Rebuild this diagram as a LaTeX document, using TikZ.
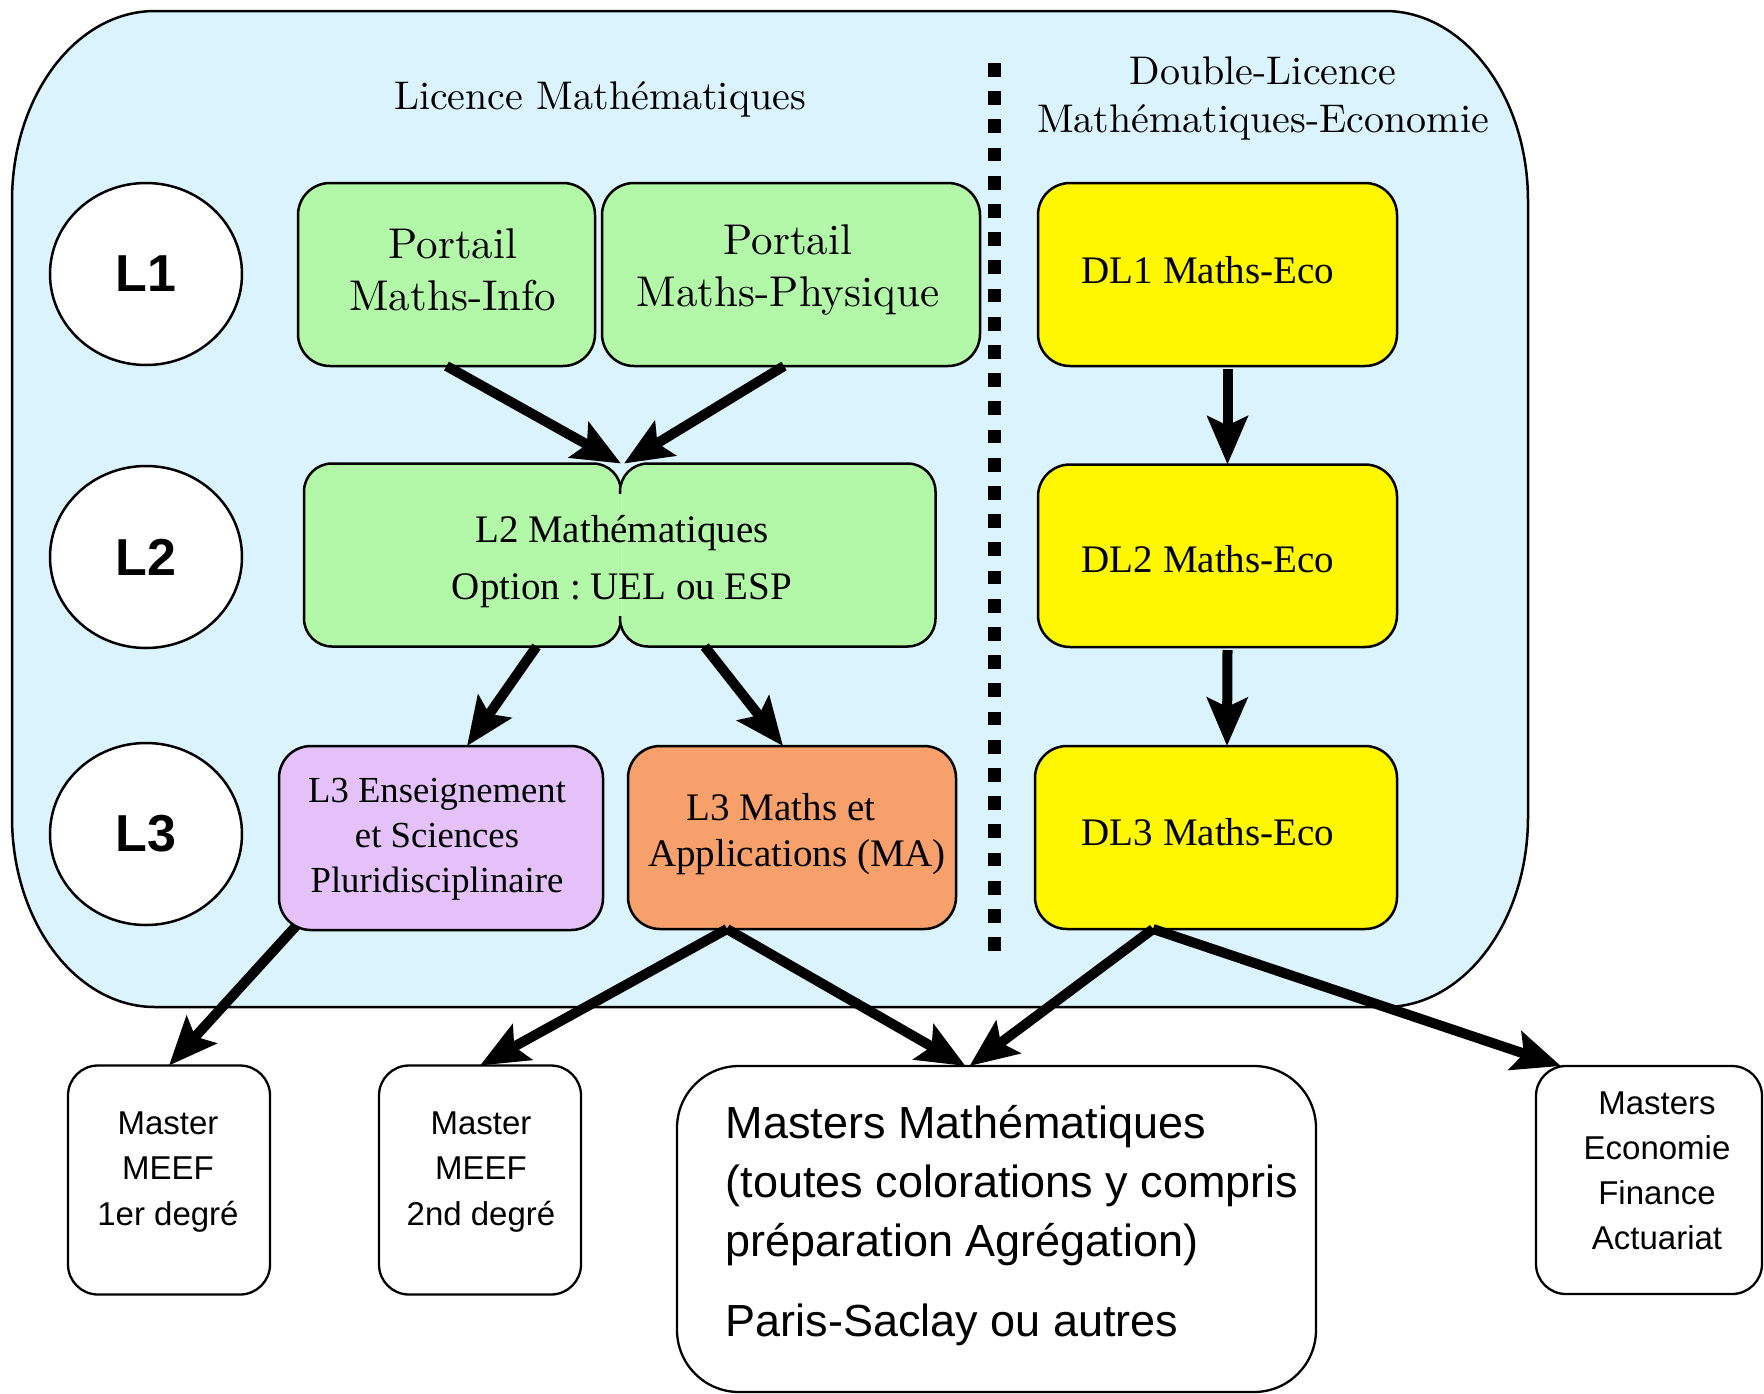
\documentclass[tikz,border=0pt]{standalone}
\usepackage{fontspec}
\newfontfamily\tms{Liberation Serif}
\newfontfamily\ars{Liberation Sans}
\newfontfamily\lmten{lmroman10-regular.otf}
\usetikzlibrary{shapes.geometric,arrows.meta}
\definecolor{bgblue}{HTML}{DAF3FD}
\definecolor{lgreen}{HTML}{B3F7A8}
\definecolor{seamgreen}{HTML}{C6F9C0}
\definecolor{dlyellow}{HTML}{FFF700}
\definecolor{lpurple}{HTML}{E4C1F9}
\definecolor{lorange}{HTML}{F8A06B}
\begin{document}
\frenchspacing
\begin{tikzpicture}[x=1pt,y=-1pt,
  box/.style={rectangle, draw=black, line width=2.5pt, rounded corners=32pt, inner sep=0pt, outer sep=0pt},
  mbox/.style={rectangle, draw=black, fill=white, line width=2.3pt, rounded corners=30pt, inner sep=0pt, outer sep=0pt},
  lvl/.style={ellipse, draw=black, fill=white, line width=2.5pt, minimum width=192pt, minimum height=182pt, inner sep=0pt, font=\ars\bfseries\fontsize{52}{52}\selectfont},
  lmtxt/.style={inner sep=0pt, align=center, font=\lmten\fontsize{43}{52}\selectfont},
  titletxt/.style={inner sep=0pt, align=center, font=\lmten\fontsize{40}{48}\selectfont},
  tmtxt/.style={inner sep=0pt, align=center, font=\tms\fontsize{39}{46}\selectfont},
  sftxt/.style={inner sep=0pt, align=center, font=\ars\fontsize{33}{45.5}\selectfont},
  arr/.style={line width=10pt, -{Stealth[length=48pt,width=40pt,inset=9pt]}}
]
\useasboundingbox (0,0) rectangle (1764,1393);

% background region
\filldraw[fill=bgblue, draw=black, line width=2.5pt]
  (155,11) -- (1385,11) .. controls (1464,11) and (1528,96) .. (1528,201)
  -- (1528,817) .. controls (1528,922) and (1464,1007) .. (1385,1007)
  -- (155,1007) .. controls (76,1007) and (12,922) .. (12,817)
  -- (12,201) .. controls (12,96) and (76,11) .. (155,11) -- cycle;

% separator
\draw[line width=13.5pt, dash pattern=on 13.7pt off 14.5pt] (994.5,63) -- (994.5,953.5);

% titles
\node[titletxt] (tlic) at (600,99.5) {Licence Mathématiques};
\node[titletxt] (tdl) at (1263,98.5) {Double-Licence\\Mathématiques-Economie};

% levels
\node[lvl] (lv1) at (146,274) {L1};
\node[lvl] (lv2) at (146,557) {L2};
\node[lvl] (lv3) at (146,834) {L3};

% L1 boxes
\node[box, fill=lgreen, minimum width=297pt, minimum height=183pt] (pmi) at (446.5,274.5) {};
\node[box, fill=lgreen, minimum width=378pt, minimum height=183pt] (pmp) at (791,274.5) {};
\node[lmtxt] (tpmi) at (453,270) {Portail\\Maths-Info};
\node[lmtxt] (tpmp) at (788,270) {Portail\\Maths-Physique};

% L2 box (two merged boxes)
\node[box, fill=lgreen, rounded corners=28pt, minimum width=317pt, minimum height=183pt] (l2a) at (462.5,555) {};
\node[box, fill=lgreen, rounded corners=28pt, minimum width=315.5pt, minimum height=183pt] (l2b) at (777.75,555) {};
\fill[lgreen] (613,494) rectangle (628,616);
\draw[seamgreen, line width=1.5pt] (621.5,494) -- (621.5,616);
\node[tmtxt, font=\tms\fontsize{39}{57}\selectfont] (tl2) at (622,561.5) {L2 Mathématiques\\Option : UEL ou ESP};

% L3 boxes
\node[box, fill=lpurple, minimum width=324pt, minimum height=184pt] (l3e) at (441,838) {};
\node[box, fill=lorange, minimum width=328pt, minimum height=183pt] (l3m) at (792,837.5) {};
\node[tmtxt, font=\tms\fontsize{36.7}{45}\selectfont] (tl3e) at (437,839) {L3 Enseignement\\et Sciences\\Pluridisciplinaire};
\node[tmtxt] (tl3m) at (797,834) {L3 Maths et\hspace*{32pt}\\Applications (MA)};

% Double licence boxes
\node[box, fill=dlyellow, minimum width=359pt, minimum height=183pt] (dl1) at (1217.5,274.5) {};
\node[box, fill=dlyellow, minimum width=359pt, minimum height=182.5pt] (dl2) at (1217.5,555.75) {};
\node[box, fill=dlyellow, minimum width=362pt, minimum height=183pt] (dl3) at (1216,837.5) {};
\node[tmtxt] (tdl1) at (1208,270) {DL1 Maths-Eco};
\node[tmtxt] (tdl2) at (1208,559) {DL2 Maths-Eco};
\node[tmtxt] (tdl3) at (1208,832) {DL3 Maths-Eco};

% Masters
\node[mbox, minimum width=202pt, minimum height=229pt] (m1) at (169,1180) {};
\node[mbox, minimum width=202pt, minimum height=229pt] (m2) at (480,1180) {};
\node[mbox, rounded corners=62pt, minimum width=639pt, minimum height=326pt] (mm) at (996.5,1229) {};
\node[mbox, minimum width=226pt, minimum height=228pt] (me) at (1649,1180) {};
\node[sftxt] (tm1) at (168,1172) {Master\\MEEF\\1er degré};
\node[sftxt] (tm2) at (481,1172) {Master\\MEEF\\2nd degré};
\node[sftxt, font=\ars\fontsize{33}{45}\selectfont] (tme) at (1657,1171) {Masters\\Economie\\Finance\\Actuariat};
\node[inner sep=0pt, align=left, anchor=west, font=\ars\fontsize{45}{59}\selectfont] (tmm) at (725.6,1226)
  {Masters Mathématiques\\(toutes colorations y compris\\préparation Agrégation)\\[21pt]Paris-Saclay ou autres};

% arrows
\draw[arr] (pmi.south) -- (l2a.north east);
\draw[arr] ([xshift=-7pt]pmp.south) -- ([xshift=4pt]l2b.north west);
\draw[arr] ([xshift=74pt]l2a.south) -- ([xshift=26pt]l3e.north);
\draw[arr] ([xshift=-73pt]l2b.south) -- ([xshift=-9pt]l3m.north);
\draw[arr] ([xshift=10pt,yshift=-3pt]dl1.south) -- ([xshift=10pt]dl2.north);
\draw[arr] ([xshift=10pt,yshift=-3pt]dl2.south) -- ([xshift=11pt]dl3.north);
\draw[arr] ([xshift=17pt,yshift=4pt]l3e.south west) -- (m1.north);
\draw[arr] ([xshift=-65pt]l3m.south) -- (m2.north);
\draw[arr] ([xshift=-65pt]l3m.south) -- ([xshift=-31pt]mm.north);
\draw[arr] ([xshift=-63pt]dl3.south) -- ([xshift=-27pt]mm.north);
\draw[arr] ([xshift=-63pt]dl3.south) -- ([xshift=25pt]me.north west);
\end{tikzpicture}
\end{document}
